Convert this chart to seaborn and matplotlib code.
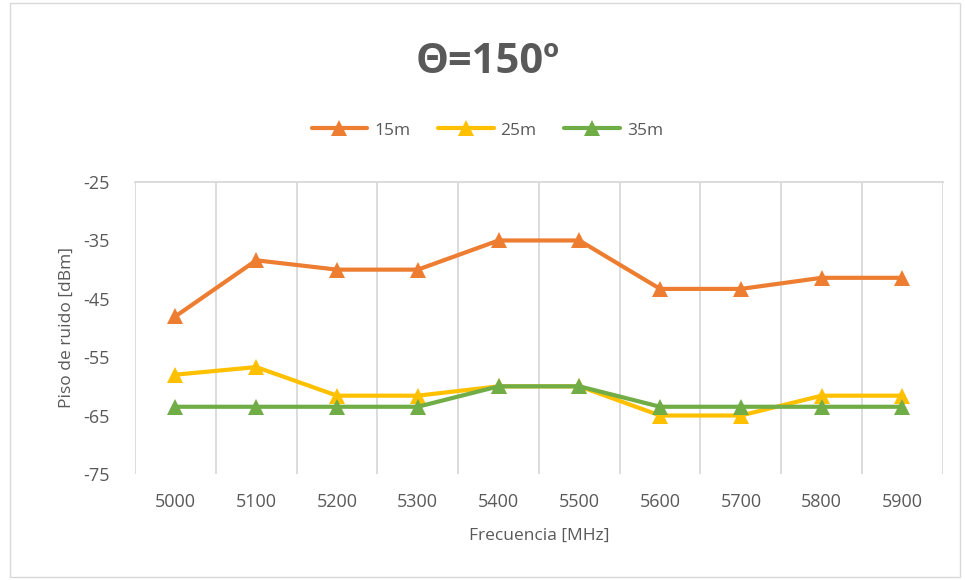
import matplotlib
matplotlib.use("Agg")
import matplotlib.pyplot as plt
import numpy as np
import pandas as pd
import seaborn as sns
from matplotlib.patches import Rectangle

# Data
frequencies = ["5000", "5100", "5200", "5300", "5400", "5500", "5600", "5700", "5800", "5900"]
noise_15m = [-48.0, -38.4, -40.0, -40.0, -35.0, -35.0, -43.3, -43.3, -41.4, -41.4]
noise_25m = [-58.0, -56.7, -61.6, -61.6, -60.0, -60.0, -65.0, -65.0, -61.6, -61.6]
noise_35m = [-63.5, -63.5, -63.5, -63.5, -60.0, -60.0, -63.5, -63.5, -63.5, -63.5]
series = ["15m", "25m", "35m"]
colors = ["#ED7D31", "#FFC000", "#70AD47"]

df = pd.DataFrame({
    "pos": list(range(len(frequencies))) * 3,
    "value": noise_15m + noise_25m + noise_35m,
    "series": [s for s in series for _ in frequencies],
})

sns.set_theme(style="white")
plt.rcParams["font.family"] = ["Open Sans", "DejaVu Sans"]
plt.rcParams["axes.unicode_minus"] = False
text_color = "#595959"

fig = plt.figure(figsize=(9.65, 5.8), dpi=100)
ax = fig.add_axes([0.140, 0.183, 0.837, 0.503])

sns.lineplot(
    data=df, x="pos", y="value", hue="series", palette=colors,
    marker="^", markersize=11, markeredgewidth=0, linewidth=3,
    ax=ax, legend=False,
)

ax.set_xlim(-0.5, len(frequencies) - 0.5)
ax.set_ylim(-75, -25)
ax.set_yticks(np.arange(-75, -24, 10))
ax.set_xticks(range(len(frequencies)))
ax.set_xticklabels(frequencies)
ax.set_xticks(np.arange(-0.5, len(frequencies), 1), minor=True)
ax.grid(True, which="minor", axis="x", color="#d9d9d9", linewidth=1.3)
ax.grid(False, which="major")
ax.tick_params(axis="both", which="both", length=0, labelsize=13, colors=text_color)
ax.tick_params(axis="x", pad=14)
ax.tick_params(axis="y", pad=18)
for s in ["left", "right", "bottom"]:
    ax.spines[s].set_visible(False)
ax.spines["top"].set_color("#d9d9d9")
ax.spines["top"].set_linewidth(1.3)

ax.set_xlabel("Frecuencia [MHz]", fontsize=12.5, color=text_color, labelpad=12)
ax.set_ylabel("Piso de ruido [dBm]", fontsize=12.5, color=text_color, labelpad=6)

fig.text(0.505, 0.893, "Θ=150º", ha="center", va="center", fontsize=30,
         fontweight="bold", color=text_color)

handles = [
    plt.Line2D([], [], color=c, linewidth=3, marker="^", markersize=11, markeredgewidth=0)
    for c in colors
]
fig.legend(handles, series, loc="center", bbox_to_anchor=(0.505, 0.775), ncol=3,
           frameon=False, fontsize=12.5, labelcolor=text_color, handlelength=3.2,
           columnspacing=1.6, handletextpad=0.4)

fig.patches.append(Rectangle((0.01, 0.005), 0.985, 0.99, transform=fig.transFigure,
                             fill=False, edgecolor="#d9d9d9", linewidth=1))

fig.savefig("out.png", dpi=100)
